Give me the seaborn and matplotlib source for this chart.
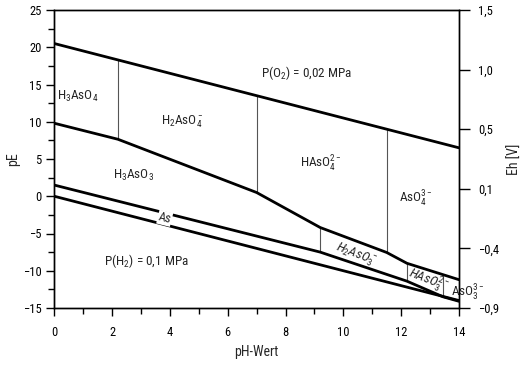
import numpy as np
import pandas as pd
import matplotlib
matplotlib.use("Agg")
import matplotlib.pyplot as plt
from matplotlib import font_manager
import seaborn as sns

# ---- data (pH, pE) ----
ph_o2 = [0, 14]
pe_o2 = [20.5, 6.5]
ph_h2 = [0, 14]
pe_h2 = [0, -14]
ph_v3 = [0, 2.2, 7.0, 9.2, 11.5, 12.2, 14]
pe_v3 = [9.8, 7.65, 0.5, -4.2, -7.55, -9.0, -11.2]
ph_as = [0, 9.2, 12.2, 13.45, 14]
pe_as = [1.5, -7.5, -11.4, -13.5, -14.1]
div_upper = [2.2, 7.0, 11.5]
div_lower = [9.2, 12.2, 13.45]

xticks = list(range(0, 15, 2))
yticks = [-15, -10, -5, 0, 5, 10, 15, 20, 25]
eh_pos = [25, 17, 9, 1, -7, -15]
eh_labels = ["1,5", "1,0", "0,5", "0,1", "\u22120,4", "\u22120,9"]

installed = {f.name for f in font_manager.fontManager.ttflist}
fam = "Liberation Sans"
for cand in ["Liberation Sans Narrow", "Roboto Condensed", "Open Sans Condensed",
             "Noto Sans Condensed", "DejaVu Sans Condensed"]:
    if cand in installed:
        fam = cand
        break
narrow = fam != "Liberation Sans"
scale = 1.0 if narrow else 0.92

sns.set_theme(style="ticks")
plt.rcParams["font.family"] = [fam, "DejaVu Sans"]
plt.rcParams["mathtext.fontset"] = "custom"
plt.rcParams["mathtext.rm"] = fam
plt.rcParams["mathtext.it"] = fam + ":italic"
plt.rcParams["mathtext.bf"] = fam + ":bold"

fig = plt.figure(figsize=(5.24, 3.66), dpi=100)
ax = fig.add_axes([54.3 / 524, 1 - 308 / 366, 404.7 / 524, 298 / 366])

for xs, ys in [(ph_o2, pe_o2), (ph_h2, pe_h2), (ph_v3, pe_v3), (ph_as, pe_as)]:
    df = pd.DataFrame({"pH": xs, "pE": ys})
    sns.lineplot(data=df, x="pH", y="pE", ax=ax, color="black", lw=2.0,
                 sort=False, estimator=None, zorder=3)

for x in div_upper:
    ax.plot([x, x], [np.interp(x, ph_v3, pe_v3), np.interp(x, ph_o2, pe_o2)],
            color="#555555", lw=0.8, zorder=2)
for x in div_lower:
    ax.plot([x, x], [np.interp(x, ph_as, pe_as), np.interp(x, ph_v3, pe_v3)],
            color="#555555", lw=0.8, zorder=2)

ax.set_xlim(0, 14)
ax.set_ylim(-15, 25)
ax.set_xticks(xticks)
ax.set_xticks(range(1, 14, 2), minor=True)
ax.set_yticks(yticks)
ax.set_yticks(np.arange(-12.5, 25, 5), minor=True)
tl = 9 * scale
ax.tick_params(axis="both", which="major", direction="out", length=6, width=1,
               colors="black", labelsize=tl)
ax.tick_params(axis="both", which="minor", direction="out", length=4, width=1,
               colors="black")
ax.tick_params(axis="x", pad=7)
ax.tick_params(axis="y", pad=3)
for s in ax.spines.values():
    s.set_visible(True)
    s.set_color("black")
    s.set_linewidth(1)

lab = 10 * scale
ax.set_xlabel("pH-Wert", fontsize=lab, va="center")
ax.xaxis.set_label_coords(0.5, (308 - 352) / 298)
ax.set_ylabel("pE", fontsize=lab, va="center")
ax.yaxis.set_label_coords((12.7 - 54.3) / 404.7, 0.5)

ax2 = ax.twinx()
ax2.set_ylim(-15, 25)
ax2.set_yticks(eh_pos)
ax2.set_yticklabels(eh_labels)
ax2.tick_params(axis="y", direction="out", length=8, width=1, labelsize=tl,
                pad=6, colors="black")
ax2.set_ylabel("Eh [V]", fontsize=lab, va="center", rotation=90)
ax2.yaxis.set_label_coords((515 - 54.3) / 404.7, 0.5)
ax2.grid(False)
for s in ax2.spines.values():
    s.set_color("black")
    s.set_linewidth(1)

fs = 9.5 * scale
ax.text(0.8, 13.4, "H$_3$AsO$_4$", fontsize=fs, ha="center", va="center")
ax.text(4.43, 10.0, "H$_2$AsO$_4^-$", fontsize=fs, ha="center", va="center")
ax.text(2.75, 2.85, "H$_3$AsO$_3$", fontsize=fs, ha="center", va="center")
ax.text(7.16, 16.6, "P(O$_2$) = 0,02 MPa", fontsize=fs, ha="left", va="center")
ax.text(9.24, 4.4, "HAsO$_4^{2-}$", fontsize=fs, ha="center", va="center")
ax.text(12.52, -0.3, "AsO$_4^{3-}$", fontsize=fs, ha="center", va="center")
ax.text(3.82, -2.95, "As", fontsize=fs - 0.5, ha="center", va="center", rotation=-14,
        bbox=dict(boxstyle="square,pad=0.05", fc="white", ec="none"), zorder=4)
ax.text(1.73, -8.7, "P(H$_2$) = 0,1 MPa", fontsize=fs, ha="left", va="center")
ax.text(10.41, -7.9, "$\\mathit{H_2AsO_3^-}$", fontsize=fs, ha="center", va="center",
        rotation=-21)
ax.text(12.92, -11.45, "$\\mathit{HAsO_3^{2-}}$", fontsize=fs, ha="center", va="center",
        rotation=-21)
ax.text(14.3, -12.95, "AsO$_3^{3-}$", fontsize=fs, ha="center", va="center", clip_on=False,
        zorder=5)

fig.savefig("out.png", dpi=100)
